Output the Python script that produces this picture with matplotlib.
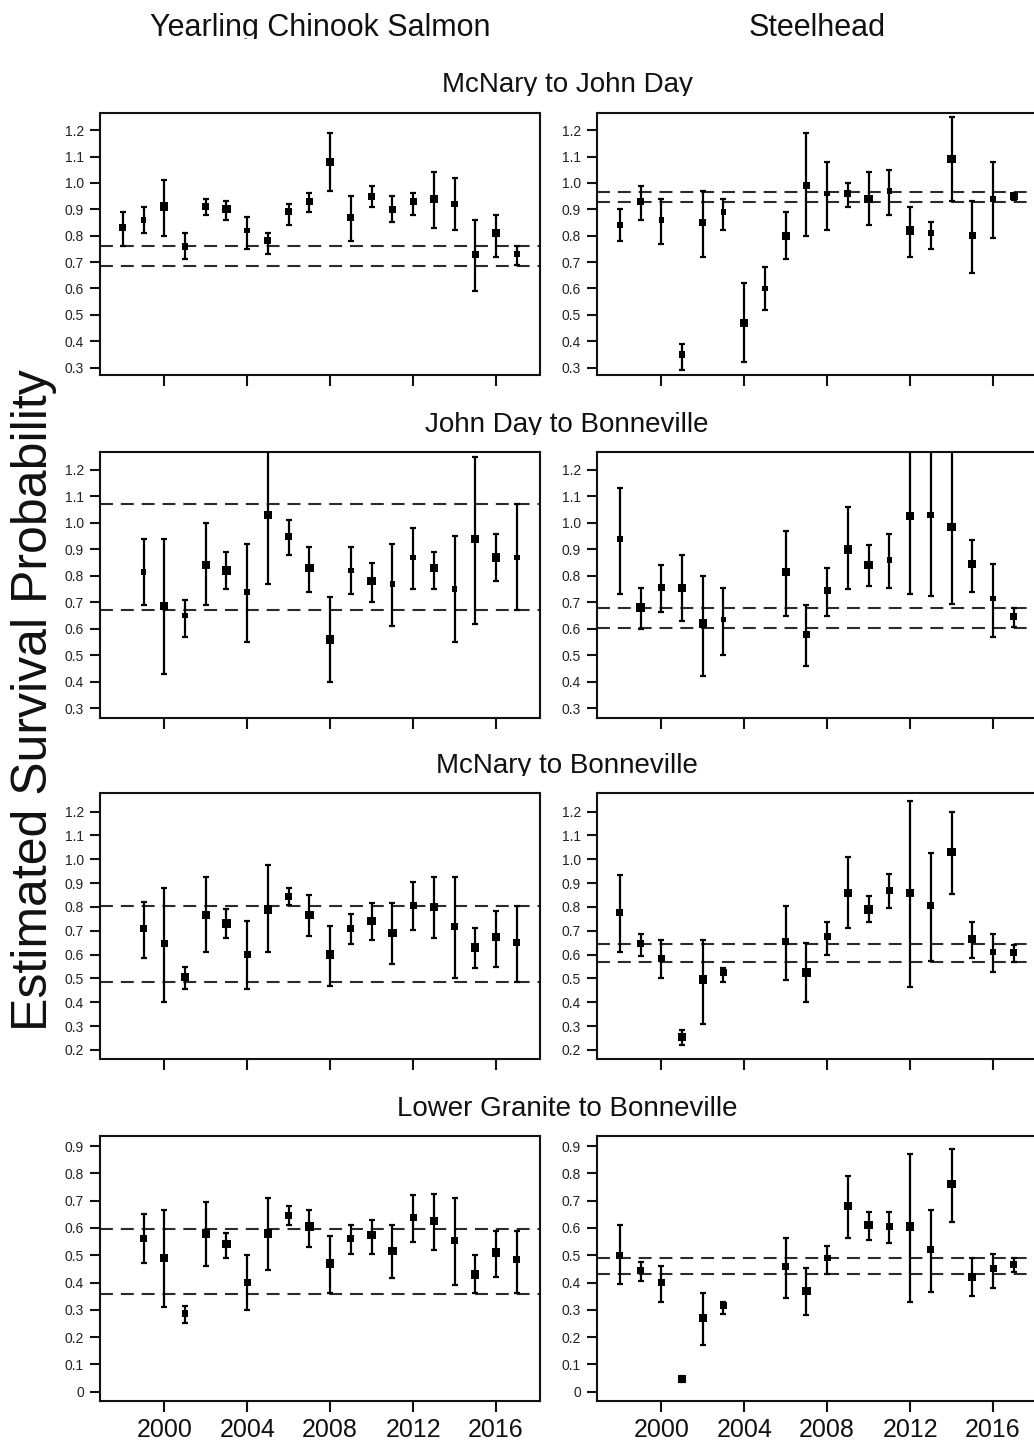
import numpy as np
import matplotlib
matplotlib.use('Agg')
import matplotlib.pyplot as plt
from matplotlib.transforms import Bbox

plt.rcParams['font.family'] = ['Liberation Sans', 'DejaVu Sans']

# ---- data ----
yrs_98 = [1998, 1999, 2000, 2001, 2002, 2003, 2004, 2005, 2006, 2007,
          2008, 2009, 2010, 2011, 2012, 2013, 2014, 2015, 2016, 2017]
yrs_99 = [1999, 2000, 2001, 2002, 2003, 2004, 2005, 2006, 2007, 2008,
          2009, 2010, 2011, 2012, 2013, 2014, 2015, 2016, 2017]
yrs_stl = [1998, 1999, 2000, 2001, 2002, 2003, 2006, 2007, 2008, 2009,
           2010, 2011, 2012, 2013, 2014, 2015, 2016, 2017]

# McNary to John Day
chk_mnjd_est = [0.83, 0.86, 0.91, 0.76, 0.91, 0.90, 0.82, 0.78, 0.89, 0.93,
                1.08, 0.87, 0.95, 0.90, 0.93, 0.94, 0.92, 0.73, 0.81, 0.73]
chk_mnjd_lo = [0.76, 0.81, 0.80, 0.71, 0.88, 0.86, 0.75, 0.73, 0.84, 0.89,
               0.97, 0.78, 0.91, 0.85, 0.88, 0.83, 0.82, 0.59, 0.72, 0.69]
chk_mnjd_hi = [0.89, 0.91, 1.01, 0.81, 0.94, 0.93, 0.87, 0.81, 0.92, 0.96,
               1.19, 0.95, 0.99, 0.95, 0.96, 1.04, 1.02, 0.86, 0.88, 0.76]
chk_mnjd_sz = [2, 1, 3, 2, 2, 3, 1, 2, 2, 2, 3, 2, 2, 2, 2, 3, 2, 2, 3, 1]
chk_mnjd_ref = [0.762, 0.686]

stl_mnjd_est = [0.84, 0.93, 0.86, 0.35, 0.85, 0.89, 0.47, 0.60, 0.80, 0.99,
                0.96, 0.96, 0.94, 0.97, 0.82, 0.81, 1.09, 0.80, 0.94, 0.95]
stl_mnjd_lo = [0.78, 0.86, 0.77, 0.29, 0.72, 0.82, 0.32, 0.52, 0.71, 0.80,
               0.82, 0.91, 0.84, 0.88, 0.72, 0.75, 0.93, 0.66, 0.79, 0.935]
stl_mnjd_hi = [0.90, 0.99, 0.94, 0.39, 0.97, 0.94, 0.62, 0.68, 0.89, 1.19,
               1.08, 1.00, 1.04, 1.05, 0.91, 0.85, 1.25, 0.93, 1.08, 0.955]
stl_mnjd_sz = [1, 2, 1, 2, 2, 1, 3, 1, 3, 2, 1, 2, 3, 1, 3, 1, 3, 2, 1, 3]
stl_mnjd_ref = [0.966, 0.929]

# John Day to Bonneville
chk_jdb_est = [0.815, 0.685, 0.65, 0.84, 0.82, 0.74, 1.03, 0.95, 0.83, 0.56,
               0.82, 0.78, 0.77, 0.87, 0.83, 0.75, 0.94, 0.87, 0.87]
chk_jdb_lo = [0.69, 0.43, 0.57, 0.69, 0.75, 0.55, 0.77, 0.88, 0.74, 0.40,
              0.73, 0.70, 0.61, 0.75, 0.75, 0.55, 0.62, 0.78, 0.67]
chk_jdb_hi = [0.94, 0.94, 0.71, 1.00, 0.89, 0.92, 1.35, 1.01, 0.91, 0.72,
              0.91, 0.85, 0.92, 0.98, 0.89, 0.95, 1.25, 0.96, 1.07]
chk_jdb_sz = [1, 3, 1, 3, 3, 1, 3, 2, 3, 3, 1, 3, 1, 1, 3, 1, 3, 3, 1]
chk_jdb_ref = [1.073, 0.672]

stl_jdb_est = [0.94, 0.68, 0.755, 0.755, 0.62, 0.635, 0.815, 0.58, 0.745,
               0.90, 0.84, 0.86, 1.025, 1.03, 0.985, 0.845, 0.715, 0.645]
stl_jdb_lo = [0.73, 0.60, 0.665, 0.63, 0.42, 0.50, 0.65, 0.46, 0.65,
              0.75, 0.76, 0.755, 0.73, 0.725, 0.695, 0.74, 0.57, 0.605]
stl_jdb_hi = [1.13, 0.755, 0.84, 0.88, 0.80, 0.755, 0.97, 0.69, 0.83,
              1.06, 0.915, 0.96, 1.35, 1.35, 1.35, 0.935, 0.845, 0.68]
stl_jdb_sz = [1, 3, 2, 3, 3, 1, 3, 2, 2, 3, 3, 1, 3, 2, 3, 3, 1, 2]
stl_jdb_ref = [0.679, 0.604]

# McNary to Bonneville
chk_mnb_est = [0.71, 0.645, 0.505, 0.765, 0.73, 0.60, 0.79, 0.845, 0.765, 0.60,
               0.71, 0.74, 0.69, 0.805, 0.80, 0.72, 0.63, 0.675, 0.65]
chk_mnb_lo = [0.585, 0.40, 0.455, 0.61, 0.67, 0.455, 0.61, 0.81, 0.68, 0.47,
              0.645, 0.66, 0.56, 0.705, 0.67, 0.50, 0.545, 0.55, 0.485]
chk_mnb_hi = [0.82, 0.88, 0.55, 0.925, 0.79, 0.74, 0.975, 0.88, 0.85, 0.72,
              0.77, 0.815, 0.815, 0.905, 0.925, 0.925, 0.71, 0.785, 0.805]
chk_mnb_sz = [2, 2, 3, 3, 3, 2, 3, 2, 3, 3, 2, 3, 3, 2, 3, 2, 3, 3, 2]
chk_mnb_ref = [0.806, 0.485]

stl_mnb_est = [0.775, 0.645, 0.585, 0.255, 0.495, 0.525, 0.655, 0.525, 0.675,
               0.86, 0.79, 0.87, 0.86, 0.805, 1.03, 0.665, 0.61, 0.61]
stl_mnb_lo = [0.61, 0.595, 0.50, 0.22, 0.31, 0.485, 0.495, 0.40, 0.60,
              0.71, 0.735, 0.795, 0.465, 0.575, 0.855, 0.585, 0.525, 0.57]
stl_mnb_hi = [0.935, 0.685, 0.66, 0.285, 0.66, 0.545, 0.805, 0.65, 0.735,
              1.01, 0.845, 0.94, 1.245, 1.025, 1.20, 0.735, 0.685, 0.64]
stl_mnb_sz = [2, 2, 2, 3, 3, 2, 2, 3, 2, 3, 3, 2, 3, 2, 3, 3, 1, 2]
stl_mnb_ref = [0.643, 0.568]

# Lower Granite to Bonneville
chk_lgb_est = [0.56, 0.49, 0.285, 0.58, 0.54, 0.40, 0.58, 0.645, 0.605, 0.47,
               0.56, 0.575, 0.515, 0.64, 0.625, 0.555, 0.43, 0.51, 0.485]
chk_lgb_lo = [0.47, 0.31, 0.25, 0.46, 0.49, 0.30, 0.445, 0.61, 0.53, 0.36,
              0.505, 0.505, 0.415, 0.55, 0.52, 0.39, 0.36, 0.42, 0.36]
chk_lgb_hi = [0.65, 0.665, 0.315, 0.695, 0.58, 0.50, 0.71, 0.68, 0.665, 0.57,
              0.61, 0.63, 0.61, 0.72, 0.725, 0.71, 0.50, 0.59, 0.59]
chk_lgb_sz = [2, 3, 2, 3, 3, 2, 3, 2, 3, 3, 2, 3, 3, 2, 3, 2, 3, 3, 2]
chk_lgb_ref = [0.595, 0.358]

stl_lgb_est = [0.50, 0.445, 0.40, 0.047, 0.27, 0.315, 0.46, 0.37, 0.49,
               0.68, 0.61, 0.605, 0.605, 0.52, 0.76, 0.42, 0.45, 0.465]
stl_lgb_lo = [0.395, 0.405, 0.33, 0.037, 0.17, 0.285, 0.345, 0.28, 0.43,
              0.565, 0.555, 0.545, 0.33, 0.365, 0.62, 0.35, 0.38, 0.44]
stl_lgb_hi = [0.61, 0.475, 0.46, 0.057, 0.36, 0.33, 0.565, 0.455, 0.535,
              0.79, 0.66, 0.66, 0.87, 0.665, 0.89, 0.49, 0.505, 0.49]
stl_lgb_sz = [2, 2, 2, 3, 3, 2, 2, 3, 2, 3, 3, 2, 3, 2, 3, 3, 2, 2]
stl_lgb_ref = [0.491, 0.432]

col_titles = ['Yearling Chinook Salmon', 'Steelhead']
row_titles = ['McNary to John Day', 'John Day to Bonneville',
              'McNary to Bonneville', 'Lower Granite to Bonneville']
ylabel = 'Estimated Survival Probability'
year_ticks = [2000, 2004, 2008, 2012, 2016]

# ---- layout (pixels) ----
W, H = 1034, 1441
fig = plt.figure(figsize=(W / 100, H / 100), dpi=100)

col_x = [(100, 540), (597, 1037)]
row_y = [(112.7, 375), (451.7, 718.3), (793.3, 1059), (1135.7, 1401)]
row_ylim = [(0.272, 1.266), (0.262, 1.269), (0.162, 1.277), (-0.034, 0.938)]
row_yticks = [np.arange(3, 13) / 10, np.arange(3, 13) / 10,
              np.arange(2, 13) / 10, np.arange(0, 10) / 10]
title_base = [92.5, 432, 773, 1115.5]
msize = {1: 4.0, 2: 5.0, 3: 6.0}

panels = [
    [(yrs_98, chk_mnjd_est, chk_mnjd_lo, chk_mnjd_hi, chk_mnjd_sz, chk_mnjd_ref),
     (yrs_98, stl_mnjd_est, stl_mnjd_lo, stl_mnjd_hi, stl_mnjd_sz, stl_mnjd_ref)],
    [(yrs_99, chk_jdb_est, chk_jdb_lo, chk_jdb_hi, chk_jdb_sz, chk_jdb_ref),
     (yrs_stl, stl_jdb_est, stl_jdb_lo, stl_jdb_hi, stl_jdb_sz, stl_jdb_ref)],
    [(yrs_99, chk_mnb_est, chk_mnb_lo, chk_mnb_hi, chk_mnb_sz, chk_mnb_ref),
     (yrs_stl, stl_mnb_est, stl_mnb_lo, stl_mnb_hi, stl_mnb_sz, stl_mnb_ref)],
    [(yrs_99, chk_lgb_est, chk_lgb_lo, chk_lgb_hi, chk_lgb_sz, chk_lgb_ref),
     (yrs_stl, stl_lgb_est, stl_lgb_lo, stl_lgb_hi, stl_lgb_sz, stl_lgb_ref)],
]


def clipped_text(x, y_base, s, size):
    t = fig.text(x / W, 1 - y_base / H, s, ha='center', va='baseline',
                 fontsize=size, color='#111111')
    # descenders are cut off in the original: keep only what is above the cut
    t.set_clip_box(Bbox.from_extents(0, H - (y_base + 3), W, H))
    t.set_clip_on(True)
    return t


for r in range(4):
    y0, y1 = row_y[r]
    for c in range(2):
        x0, x1 = col_x[c]
        ax = fig.add_axes([x0 / W, 1 - y1 / H, (x1 - x0) / W, (y1 - y0) / H])
        yrs, est, lo, hi, sz, ref = panels[r][c]
        est = np.array(est)
        lo = np.array(lo)
        hi = np.array(hi)
        for v in ref:
            ax.axhline(v, color='#2b2b2b', lw=1.5, dashes=(6.2, 3.8), zorder=1)
        ax.errorbar(yrs, est, yerr=[est - lo, hi - est], fmt='none',
                    ecolor='black', elinewidth=1.6, capsize=2.0,
                    capthick=1.6, zorder=2)
        ax.scatter(yrs, est, s=[msize[k] ** 2 for k in sz], marker='s',
                   color='black', linewidths=0, zorder=3)
        ax.set_xlim(1996.9, 2018.12)
        ax.set_ylim(*row_ylim[r])
        ax.set_xticks(year_ticks)
        ax.set_yticks(row_yticks[r])
        if r < 3:
            ax.set_yticklabels(['%.1f' % v for v in row_yticks[r]])
        else:
            ax.set_yticklabels(['%g' % v for v in row_yticks[r]])
        ax.tick_params(axis='x', length=8, width=1.5, direction='out',
                       labelsize=18, pad=4, labelbottom=(r == 3),
                       color='#111111', labelcolor='#111111')
        ax.tick_params(axis='y', length=7.5, width=1.5, direction='out',
                       labelsize=10, pad=4, color='#111111',
                       labelcolor='#222222')
        for sp in ax.spines.values():
            sp.set_linewidth(1.5)
            sp.set_color('#111111')
    clipped_text(567, title_base[r], row_titles[r], 20)

clipped_text(320, 36, col_titles[0], 22)
clipped_text(817, 36, col_titles[1], 22)

fig.text(34 / W, 1 - 700 / H, ylabel, rotation=90, ha='center', va='center',
         fontsize=36, color='#111111')

fig.savefig('out.png', dpi=100)
